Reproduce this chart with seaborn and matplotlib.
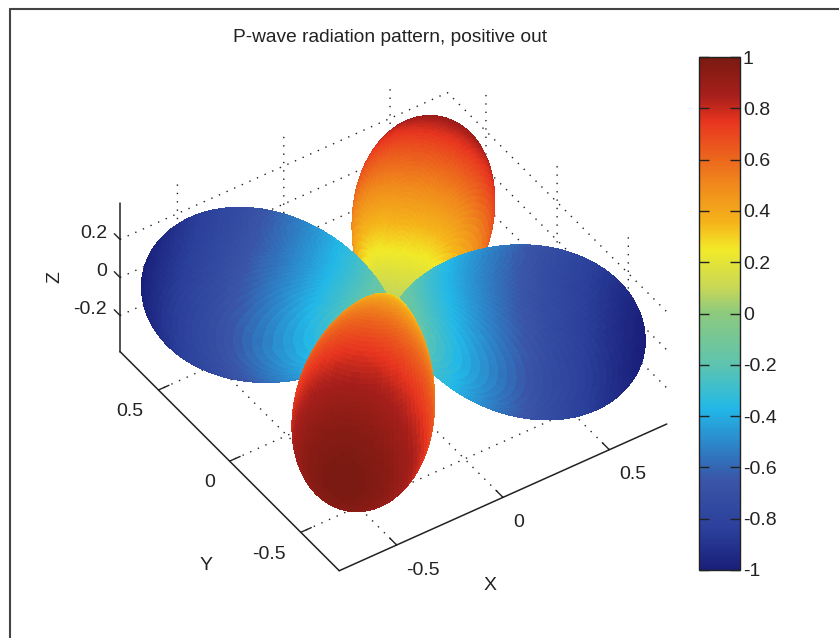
import matplotlib
matplotlib.use("Agg")
import matplotlib.pyplot as plt
import numpy as np
import seaborn as sns
from matplotlib.cm import ScalarMappable
from matplotlib.colors import LinearSegmentedColormap, Normalize
from matplotlib.lines import Line2D

title = "P-wave radiation pattern, positive out"

# amplitude across one lobe, every 1.25 degrees of azimuth, up to its peak
lobe_rise = [0, .044, .087, .131, .174, .216, .259, .301, .342, .383, .423, .462, .5, .537, .574, .609, .643, .676,
             .707, .737, .766, .793, .819, .843, .866, .887, .906, .924, .94, .954, .966, .976, .985, .991, .996, .999, 1]
lobe_amp = lobe_rise + lobe_rise[-2::-1]
lobe_deg = [i * 1.25 for i in range(len(lobe_amp))]
# one lobe every 90 degrees, drawn back to front
lobe_start = [0, 270, 90, 180]
lobe_sign = [1, -1, -1, 1]
# falloff from the pole to the equator, every 1.25 degrees
colat_rise = [0, .0005, .0019, .0043, .0076, .0118, .017, .0231, .0302, .0381, .0468, .0565, .067, .0783, .0904,
              .1033, .117, .1314, .1464, .1622, .1786, .1956, .2132, .2313, .25, .2691, .2887, .3087, .329, .3496,
              .3706, .3918, .4132, .4347, .4564, .4782, .5, .5218, .5436, .5653, .5868, .6082, .6294, .6504, .671,
              .6913, .7113, .7309, .75, .7687, .7868, .8044, .8214, .8378, .8536, .8686, .883, .8967, .9096, .9217,
              .933, .9435, .9532, .9619, .9698, .9769, .983, .9882, .9924, .9957, .9981, .9995, 1]
colat_gain = colat_rise + colat_rise[-2::-1]
colat_deg = [i * 1.25 for i in range(len(colat_gain))]

axis_ticks = [-0.5, 0, 0.5]
z_ticks = [-0.2, 0, 0.2]
cbar_ticks = [-1, -.8, -.6, -.4, -.2, 0, .2, .4, .6, .8, 1]
cbar_labels = ["-1", "-0.8", "-0.6", "-0.4", "-0.2", "0", "0.2", "0.4", "0.6", "0.8", "1"]
cbar_stops = [0, .075, .175, .225, .315, .4, .5, .55, .625, .675, .75, .875, .925, 1]
cbar_colors = ["#191f7a", "#2a3f9a", "#3a55a8", "#2f78c0", "#22b8e8", "#5dc4b0", "#8cc97e",
               "#c8d856", "#f2ea28", "#f5b51a", "#f08a1c", "#e8351f", "#a81f1b", "#7a1a12"]

sns.set_theme(style="white")
plt.rcParams["font.family"] = ["Liberation Sans", "DejaVu Sans"]
plt.rcParams["axes.unicode_minus"] = False
plt.rcParams["grid.linestyle"] = (0, (1, 5))
plt.rcParams["grid.color"] = "#222222"
plt.rcParams["grid.linewidth"] = 1.0

W, H = 839, 638
elev, azim = 42, -123.8
fig = plt.figure(figsize=(W / 100, H / 100), dpi=100)
ink = "#222222"

cmap = LinearSegmentedColormap.from_list("pwave", list(zip(cbar_stops, cbar_colors)), N=256)
norm = Normalize(-1, 1)

ax = fig.add_axes([75 / W, 6 / H, 620 / W, 620 / H], projection="3d", proj_type="ortho", computed_zorder=False)

col = np.radians(colat_deg)
view = np.array([np.cos(np.radians(elev)) * np.cos(np.radians(azim)),
                 np.cos(np.radians(elev)) * np.sin(np.radians(azim)),
                 np.sin(np.radians(elev))])
for i, (start, sign) in enumerate(zip(lobe_start, lobe_sign)):
    az = np.radians(np.array(lobe_deg) + start)
    r = np.outer(colat_gain, lobe_amp)
    x = r * np.outer(np.sin(col), np.cos(az))
    y = r * np.outer(np.sin(col), np.sin(az))
    z = r * np.outer(np.cos(col), np.ones_like(az))
    # face colour from the mean of its corners, faces turned away from the camera are hidden
    pts = np.dstack([x, y, z])
    normal = np.cross(pts[1:, 1:] - pts[:-1, :-1], pts[:-1, 1:] - pts[1:, :-1])
    mid = sign * (r[:-1, :-1] + r[1:, :-1] + r[:-1, 1:] + r[1:, 1:]) / 4
    colors = cmap(norm(mid))
    colors[normal @ view <= 0, 3] = 0
    ax.plot_surface(x, y, z, facecolors=colors, rstride=1, cstride=1, shade=False,
                    antialiased=False, linewidth=0, zorder=5 + i)

# z ticks point out along +y, which the 3d axis does not do by itself
for t in z_ticks:
    ax.plot([-.77, -.77], [.77, .81], [t, t], color=ink, linewidth=1, zorder=1)

ax.view_init(elev=elev, azim=azim)
ax.set_xlim(-.77, .77, view_margin=0)
ax.set_ylim(-.77, .77, view_margin=0)
ax.set_zlim(-.39, .39, view_margin=0)
ax.set_box_aspect((1.54, 1.54, .78), zoom=.927)
ax.set_xticks(axis_ticks)
ax.set_yticks(axis_ticks)
ax.set_zticks(z_ticks)
ax.set_xticklabels(["-0.5", "0", "0.5"])
ax.set_yticklabels(["-0.5", "0", "0.5"])
ax.set_zticklabels(["-0.2", "0", "0.2"])
ax.patch.set_alpha(0)
for axis in (ax.xaxis, ax.yaxis, ax.zaxis):
    axis.pane.set_visible(False)
    axis.line.set_color(ink)
    axis.line.set_linewidth(1.1)
    axis._axinfo["tick"].update(inward_factor=0, outward_factor=.4, linewidth={True: 1, False: 1}, color=ink)
ax.zaxis._axinfo["tick"].update(outward_factor=0)
ax.tick_params(labelsize=14, colors=ink, pad=2.5)
ax.tick_params(axis="z", pad=-2.5)
plt.setp(ax.xaxis.get_ticklabels(), ha="left")
plt.setp(ax.yaxis.get_ticklabels(), ha="right")
plt.setp(ax.zaxis.get_ticklabels(), ha="right", va="baseline")

cax = fig.add_axes([699 / W, 1 - 570 / H, 41 / W, 513 / H])
cbar = fig.colorbar(ScalarMappable(norm=norm, cmap=cmap), cax=cax, ticks=cbar_ticks)
cbar.set_ticklabels(cbar_labels)
cbar.outline.set_edgecolor(ink)
cbar.outline.set_linewidth(1)
cax.set_axisbelow(False)
cax.tick_params(direction="in", left=True, right=True, length=7, width=1, color=ink,
                labelsize=14, labelcolor=ink, pad=2)

fig.text(390 / W, 1 - 37 / H, title, ha="center", va="center", fontsize=13.8, color=ink)
fig.text(490 / W, 1 - 586 / H, "X", ha="center", va="center", fontsize=14, color=ink)
fig.text(206 / W, 1 - 566 / H, "Y", ha="center", va="center", fontsize=14, color=ink)
fig.text(55 / W, 1 - 277 / H, "Z", ha="center", va="center", rotation=90, fontsize=14, color=ink)

frame = "#444444"
fig.add_artist(Line2D([9.5 / W, 9.5 / W], [0, 1 - 8.5 / H], color=frame, linewidth=1.5))
fig.add_artist(Line2D([9.5 / W, 1], [1 - 8.5 / H, 1 - 8.5 / H], color=frame, linewidth=1.5))

fig.savefig("out.png", dpi=100)
